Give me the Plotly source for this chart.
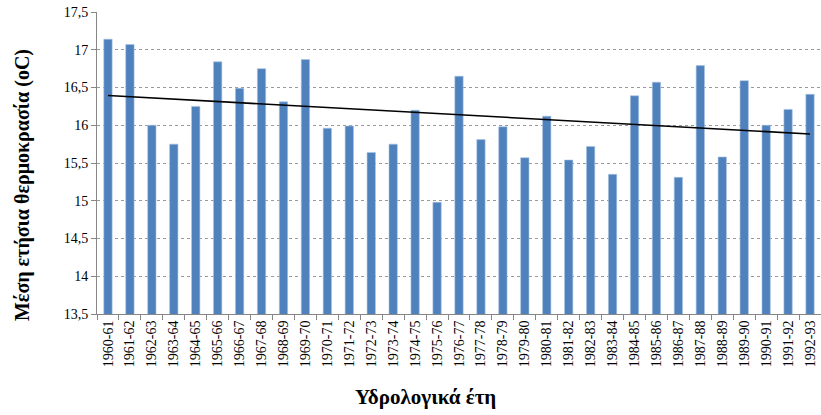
import numpy as np
import plotly.graph_objects as go

# Hydrological years and mean annual temperature (°C)
years = [
    "1960-61", "1961-62", "1962-63", "1963-64", "1964-65", "1965-66", "1966-67",
    "1967-68", "1968-69", "1969-70", "1970-71", "1971-72", "1972-73", "1973-74",
    "1974-75", "1975-76", "1976-77", "1977-78", "1978-79", "1979-80", "1980-81",
    "1981-82", "1982-83", "1983-84", "1984-85", "1985-86", "1986-87", "1987-88",
    "1988-89", "1989-90", "1990-91", "1991-92", "1992-93",
]
temps = [
    17.14, 17.07, 16.00, 15.75, 16.25, 16.84, 16.49,
    16.75, 16.31, 16.87, 15.96, 15.99, 15.64, 15.75,
    16.20, 14.98, 16.65, 15.81, 15.98, 15.57, 16.12,
    15.54, 15.72, 15.35, 16.39, 16.57, 15.31, 16.79,
    15.58, 16.59, 16.00, 16.21, 16.41,
]
y_ticks = [13.5, 14, 14.5, 15, 15.5, 16, 16.5, 17, 17.5]

# Linear trend through the annual values
idx = np.arange(len(temps))
slope, intercept = np.polyfit(idx, temps, 1)
trend = slope * idx + intercept

serif = "Liberation Serif, Times New Roman, serif"

fig = go.Figure()
fig.add_trace(go.Bar(
    x=years, y=temps,
    marker=dict(color="#4F81BD", line=dict(color="#A9C2E0", width=0.6)),
    showlegend=False,
))
fig.add_trace(go.Scatter(
    x=years, y=trend, mode="lines",
    line=dict(color="black", width=1.6),
    showlegend=False,
))

fig.update_layout(
    width=821, height=415,
    margin=dict(l=97, r=0, t=12, b=101),
    paper_bgcolor="white", plot_bgcolor="white",
    separators=", ",
    bargap=0.62,
    font=dict(family=serif, color="black"),
    xaxis=dict(
        type="category",
        tickangle=-90,
        tickfont=dict(size=14, family=serif, color="black"),
        showline=True, linecolor="#868686", linewidth=1,
        ticks="outside", tickson="boundaries", ticklen=5, tickcolor="#868686",
        showgrid=False,
    ),
    yaxis=dict(
        range=[13.5, 17.5],
        tickvals=y_ticks,
        tickfont=dict(size=14, family=serif, color="black"),
        showline=True, linecolor="#868686", linewidth=1,
        ticks="outside", ticklen=5, tickcolor="#868686",
        showgrid=True, gridcolor="#9A9A9A", griddash="dot", gridwidth=1,
        zeroline=False,
    ),
    annotations=[
        dict(text="<b>Μέση ετήσια θερμοκρασία (oC)</b>", xref="paper", yref="paper",
             x=-0.1036, y=0.427, xanchor="center", yanchor="middle", textangle=-90,
             showarrow=False, font=dict(size=20, family=serif, color="black")),
        dict(text="<b>Υδρολογικά έτη</b>", xref="paper", yref="paper",
             x=0.454, y=-0.275, xanchor="center", yanchor="middle",
             showarrow=False, font=dict(size=21, family=serif, color="black")),
    ],
)

fig.write_html("out.html")
